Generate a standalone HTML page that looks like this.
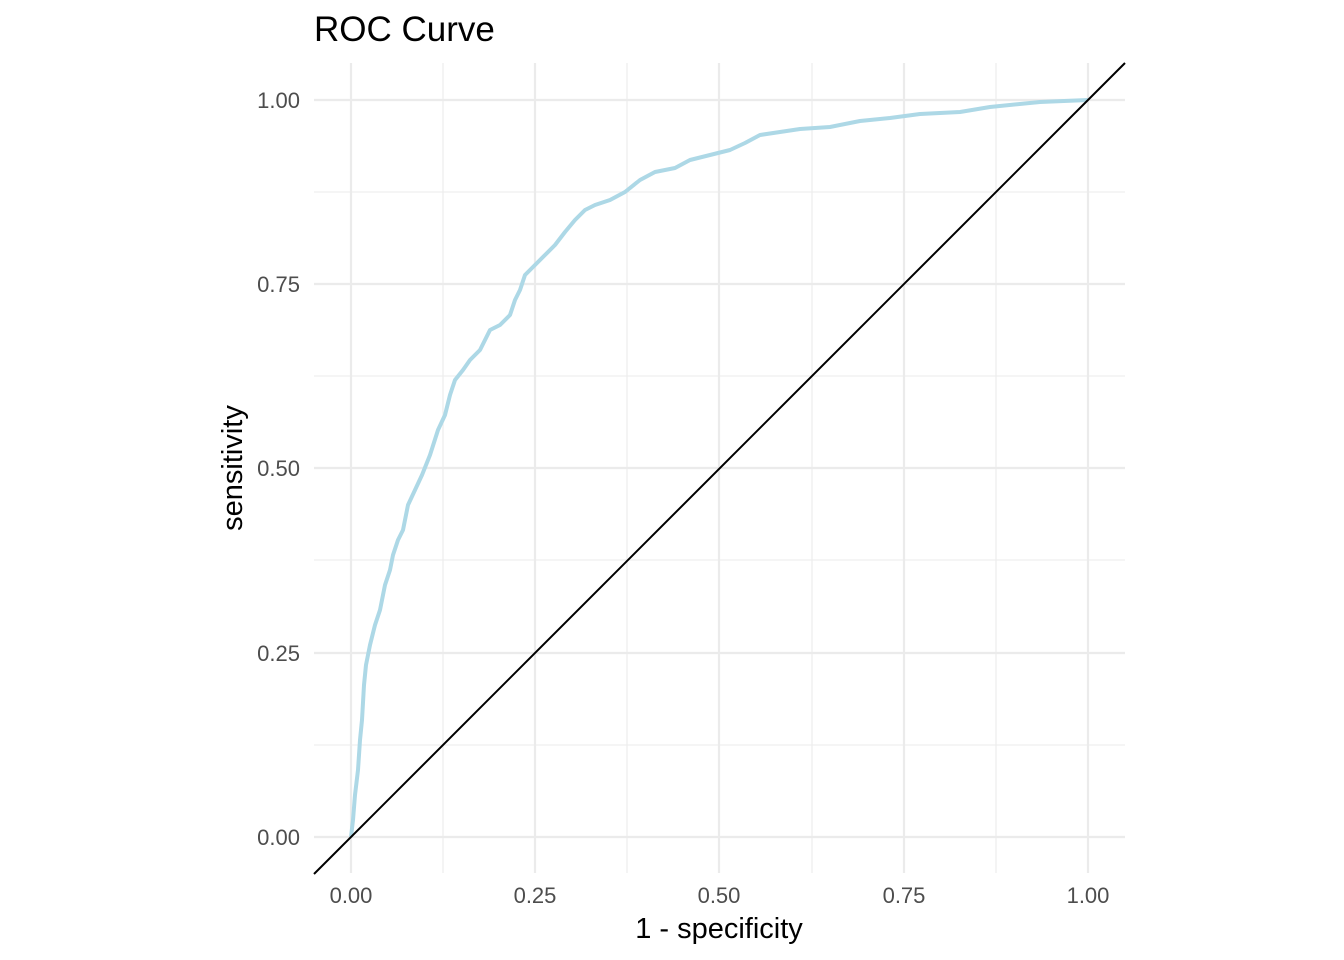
<!DOCTYPE html>
<html><head><meta charset="utf-8"><style>
html,body{margin:0;padding:0;background:#fff;}
svg{display:block;font-family:"Liberation Sans",sans-serif;}
</style></head><body>
<svg width="1344" height="960" viewBox="0 0 1344 960">
<rect width="1344" height="960" fill="#fff"/>
<g stroke="#ebebeb" stroke-width="1.1">
<line x1="443" y1="63" x2="443" y2="873"/><line x1="627" y1="63" x2="627" y2="873"/>
<line x1="812" y1="63" x2="812" y2="873"/><line x1="996" y1="63" x2="996" y2="873"/>
<line x1="314" y1="192" x2="1125" y2="192"/><line x1="314" y1="376" x2="1125" y2="376"/>
<line x1="314" y1="560" x2="1125" y2="560"/><line x1="314" y1="745" x2="1125" y2="745"/>
</g>
<g stroke="#ebebeb" stroke-width="2.2">
<line x1="351" y1="63" x2="351" y2="873"/><line x1="535" y1="63" x2="535" y2="873"/>
<line x1="719" y1="63" x2="719" y2="873"/><line x1="904" y1="63" x2="904" y2="873"/>
<line x1="1088" y1="63" x2="1088" y2="873"/>
<line x1="314" y1="100" x2="1125" y2="100"/><line x1="314" y1="284" x2="1125" y2="284"/>
<line x1="314" y1="468" x2="1125" y2="468"/><line x1="314" y1="653" x2="1125" y2="653"/>
<line x1="314" y1="837" x2="1125" y2="837"/>
</g>
<polyline fill="none" stroke="#add8e6" stroke-width="4" stroke-linejoin="round" points="351,837 353,820 355,795 358,770 360,740 362,720 364,685 366,665 370,645 375,625 380,610 385,585 390,570 393,555 398,540 403,530 408,505 415,490 422,475 430,455 438,430 445,415 450,395 455,380 463,370 470,360 480,350 490,330 500,325 510,315 515,300 520,290 525,275 535,265 545,255 555,245 565,232 575,220 585,210 595,205 610,200 625,192 640,180 655,172 675,168 690,160 710,155 730,150 745,143 760,135 780,132 800,129 830,127 860,121 890,118 920,114 960,112 990,107 1040,102 1088,100"/>
<line x1="314" y1="874" x2="1125" y2="63" stroke="#000" stroke-width="2"/>
<g fill="#4d4d4d" font-size="22" text-anchor="end">
<text x="300" y="108">1.00</text><text x="300" y="292">0.75</text><text x="300" y="476">0.50</text>
<text x="300" y="661">0.25</text><text x="300" y="845">0.00</text>
</g>
<g fill="#4d4d4d" font-size="22" text-anchor="middle">
<text x="351" y="903">0.00</text><text x="535" y="903">0.25</text><text x="719" y="903">0.50</text>
<text x="904" y="903">0.75</text><text x="1088" y="903">1.00</text>
</g>
<text x="719" y="938" font-size="29" text-anchor="middle" fill="#000">1 - specificity</text>
<text transform="translate(242,468) rotate(-90)" font-size="29" text-anchor="middle" fill="#000">sensitivity</text>
<text x="314" y="41" font-size="35" fill="#000">ROC Curve</text>
</svg>
</body></html>
